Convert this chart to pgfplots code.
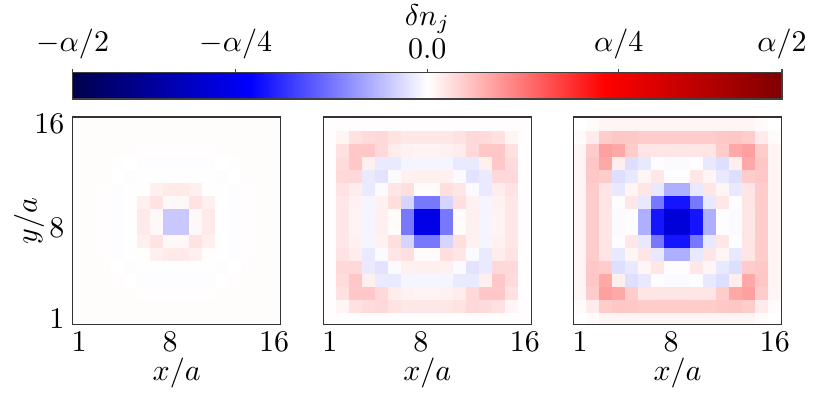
\documentclass[border=0pt]{standalone}
\usepackage{pgfplots}
\usepackage{pgfplotstable}
\pgfplotsset{compat=1.18}

% seismic colormap, values in units of alpha/2
\pgfplotsset{
  colormap={seismic}{rgb=(0,0,0.3) rgb=(0,0,1) rgb=(1,1,1) rgb=(1,0,0) rgb=(0.5,0,0)},
  hm/.style={
    scale only axis, width=69.33pt, height=69.33pt,
    xmin=0.5, xmax=16.5, ymin=0.5, ymax=16.5,
    xtick={1,8,16}, ytick={1,8,16},
    major tick length=0pt,
    axis on top, clip marker paths=true,
    point meta min=-1, point meta max=1,
    colormap name=seismic,
    xlabel={$x/a$},
    xlabel style={at={(axis description cs:0.5,-0.23)}, anchor=center},
    ylabel style={at={(axis description cs:-0.21,0.5)}, anchor=center},
    axis line style={black!80, line width=0.35pt},
    xticklabel style={yshift=1.3pt},
    yticklabel style={xshift=0.8pt},
    anchor=north west,
    y dir=normal,
  },
  % one square per lattice site, side = 1/16 of the axis
  cell/.style={scatter, only marks, mark=square*, mark size=2.1667pt,
    point meta=explicit,
    scatter/use mapped color={draw=mapped color, fill=mapped color},
    mark options={line width=0.2pt}},
}

% panel 1
\pgfplotstableread[row sep=\\]{
x y c\\
1 1 0.007\\ 2 1 0.007\\ 3 1 0.007\\ 4 1 0.007\\ 5 1 0.007\\ 6 1 0.007\\ 7 1 0.007\\ 8 1 0.007\\ 9 1 0.007\\ 10 1 0.007\\ 11 1 0.007\\ 12 1 0.007\\ 13 1 0.007\\ 14 1 0.007\\ 15 1 0.007\\ 16 1 0.007\\
1 2 0.007\\ 2 2 0.007\\ 3 2 0.007\\ 4 2 0.007\\ 5 2 0.007\\ 6 2 0.007\\ 7 2 0.007\\ 8 2 0.007\\ 9 2 0.007\\ 10 2 0.007\\ 11 2 0.007\\ 12 2 0.007\\ 13 2 0.007\\ 14 2 0.007\\ 15 2 0.007\\ 16 2 0.007\\
1 3 0.007\\ 2 3 0.007\\ 3 3 0.007\\ 4 3 0.007\\ 5 3 0.006\\ 6 3 0.004\\ 7 3 0.004\\ 8 3 0.004\\ 9 3 0.004\\ 10 3 0.004\\ 11 3 0.004\\ 12 3 0.006\\ 13 3 0.007\\ 14 3 0.007\\ 15 3 0.007\\ 16 3 0.007\\
1 4 0.007\\ 2 4 0.007\\ 3 4 0.007\\ 4 4 0.004\\ 5 4 0\\ 6 4 -0.003\\ 7 4 -0.003\\ 8 4 -0.003\\ 9 4 -0.003\\ 10 4 -0.003\\ 11 4 -0.003\\ 12 4 0\\ 13 4 0.004\\ 14 4 0.007\\ 15 4 0.007\\ 16 4 0.007\\
1 5 0.007\\ 2 5 0.007\\ 3 5 0.006\\ 4 5 0\\ 5 5 -0.003\\ 6 5 0.002\\ 7 5 0.003\\ 8 5 0.003\\ 9 5 0.003\\ 10 5 0.003\\ 11 5 0.002\\ 12 5 -0.003\\ 13 5 0\\ 14 5 0.006\\ 15 5 0.007\\ 16 5 0.007\\
1 6 0.007\\ 2 6 0.007\\ 3 6 0.004\\ 4 6 -0.003\\ 5 6 0.002\\ 6 6 0.005\\ 7 6 0.03\\ 8 6 0.043\\ 9 6 0.043\\ 10 6 0.03\\ 11 6 0.005\\ 12 6 0.002\\ 13 6 -0.003\\ 14 6 0.004\\ 15 6 0.007\\ 16 6 0.007\\
1 7 0.007\\ 2 7 0.007\\ 3 7 0.004\\ 4 7 -0.003\\ 5 7 0.003\\ 6 7 0.03\\ 7 7 0.055\\ 8 7 0.015\\ 9 7 0.015\\ 10 7 0.055\\ 11 7 0.03\\ 12 7 0.003\\ 13 7 -0.003\\ 14 7 0.004\\ 15 7 0.007\\ 16 7 0.007\\
1 8 0.007\\ 2 8 0.007\\ 3 8 0.004\\ 4 8 -0.003\\ 5 8 0.003\\ 6 8 0.043\\ 7 8 0.015\\ 8 8 -0.108\\ 9 8 -0.108\\ 10 8 0.015\\ 11 8 0.043\\ 12 8 0.003\\ 13 8 -0.003\\ 14 8 0.004\\ 15 8 0.007\\ 16 8 0.007\\
1 9 0.007\\ 2 9 0.007\\ 3 9 0.004\\ 4 9 -0.003\\ 5 9 0.003\\ 6 9 0.043\\ 7 9 0.015\\ 8 9 -0.108\\ 9 9 -0.108\\ 10 9 0.015\\ 11 9 0.043\\ 12 9 0.003\\ 13 9 -0.003\\ 14 9 0.004\\ 15 9 0.007\\ 16 9 0.007\\
1 10 0.007\\ 2 10 0.007\\ 3 10 0.004\\ 4 10 -0.003\\ 5 10 0.003\\ 6 10 0.03\\ 7 10 0.055\\ 8 10 0.015\\ 9 10 0.015\\ 10 10 0.055\\ 11 10 0.03\\ 12 10 0.003\\ 13 10 -0.003\\ 14 10 0.004\\ 15 10 0.007\\ 16 10 0.007\\
1 11 0.007\\ 2 11 0.007\\ 3 11 0.004\\ 4 11 -0.003\\ 5 11 0.002\\ 6 11 0.005\\ 7 11 0.03\\ 8 11 0.043\\ 9 11 0.043\\ 10 11 0.03\\ 11 11 0.005\\ 12 11 0.002\\ 13 11 -0.003\\ 14 11 0.004\\ 15 11 0.007\\ 16 11 0.007\\
1 12 0.007\\ 2 12 0.007\\ 3 12 0.006\\ 4 12 0\\ 5 12 -0.003\\ 6 12 0.002\\ 7 12 0.003\\ 8 12 0.003\\ 9 12 0.003\\ 10 12 0.003\\ 11 12 0.002\\ 12 12 -0.003\\ 13 12 0\\ 14 12 0.006\\ 15 12 0.007\\ 16 12 0.007\\
1 13 0.007\\ 2 13 0.007\\ 3 13 0.007\\ 4 13 0.004\\ 5 13 0\\ 6 13 -0.003\\ 7 13 -0.003\\ 8 13 -0.003\\ 9 13 -0.003\\ 10 13 -0.003\\ 11 13 -0.003\\ 12 13 0\\ 13 13 0.004\\ 14 13 0.007\\ 15 13 0.007\\ 16 13 0.007\\
1 14 0.007\\ 2 14 0.007\\ 3 14 0.007\\ 4 14 0.007\\ 5 14 0.006\\ 6 14 0.004\\ 7 14 0.004\\ 8 14 0.004\\ 9 14 0.004\\ 10 14 0.004\\ 11 14 0.004\\ 12 14 0.006\\ 13 14 0.007\\ 14 14 0.007\\ 15 14 0.007\\ 16 14 0.007\\
1 15 0.007\\ 2 15 0.007\\ 3 15 0.007\\ 4 15 0.007\\ 5 15 0.007\\ 6 15 0.007\\ 7 15 0.007\\ 8 15 0.007\\ 9 15 0.007\\ 10 15 0.007\\ 11 15 0.007\\ 12 15 0.007\\ 13 15 0.007\\ 14 15 0.007\\ 15 15 0.007\\ 16 15 0.007\\
1 16 0.007\\ 2 16 0.007\\ 3 16 0.007\\ 4 16 0.007\\ 5 16 0.007\\ 6 16 0.007\\ 7 16 0.007\\ 8 16 0.007\\ 9 16 0.007\\ 10 16 0.007\\ 11 16 0.007\\ 12 16 0.007\\ 13 16 0.007\\ 14 16 0.007\\ 15 16 0.007\\ 16 16 0.007\\
}\tabA

% panel 2
\pgfplotstableread[row sep=\\]{
x y c\\
1 1 0.005\\ 2 1 0.005\\ 3 1 0.005\\ 4 1 0.005\\ 5 1 0.005\\ 6 1 0.005\\ 7 1 0.005\\ 8 1 0.005\\ 9 1 0.005\\ 10 1 0.005\\ 11 1 0.005\\ 12 1 0.005\\ 13 1 0.005\\ 14 1 0.005\\ 15 1 0.005\\ 16 1 0.005\\
1 2 0.005\\ 2 2 0.02\\ 3 2 0.06\\ 4 2 0.072\\ 5 2 0.075\\ 6 2 0.058\\ 7 2 0.048\\ 8 2 0.048\\ 9 2 0.048\\ 10 2 0.048\\ 11 2 0.058\\ 12 2 0.075\\ 13 2 0.072\\ 14 2 0.06\\ 15 2 0.02\\ 16 2 0.005\\
1 3 0.005\\ 2 3 0.06\\ 3 3 0.11\\ 4 3 0.11\\ 5 3 0.075\\ 6 3 0.035\\ 7 3 0.028\\ 8 3 0.025\\ 9 3 0.025\\ 10 3 0.028\\ 11 3 0.035\\ 12 3 0.075\\ 13 3 0.11\\ 14 3 0.11\\ 15 3 0.06\\ 16 3 0.005\\
1 4 0.005\\ 2 4 0.072\\ 3 4 0.11\\ 4 4 0.03\\ 5 4 -0.04\\ 6 4 -0.04\\ 7 4 -0.02\\ 8 4 -0.02\\ 9 4 -0.02\\ 10 4 -0.02\\ 11 4 -0.04\\ 12 4 -0.04\\ 13 4 0.03\\ 14 4 0.11\\ 15 4 0.072\\ 16 4 0.005\\
1 5 0.005\\ 2 5 0.075\\ 3 5 0.075\\ 4 5 -0.04\\ 5 5 -0.055\\ 6 5 -0.008\\ 7 5 0.028\\ 8 5 0.03\\ 9 5 0.03\\ 10 5 0.028\\ 11 5 -0.008\\ 12 5 -0.055\\ 13 5 -0.04\\ 14 5 0.075\\ 15 5 0.075\\ 16 5 0.005\\
1 6 0.005\\ 2 6 0.058\\ 3 6 0.035\\ 4 6 -0.04\\ 5 6 -0.008\\ 6 6 0.05\\ 7 6 0.065\\ 8 6 0.008\\ 9 6 0.008\\ 10 6 0.065\\ 11 6 0.05\\ 12 6 -0.008\\ 13 6 -0.04\\ 14 6 0.035\\ 15 6 0.058\\ 16 6 0.005\\
1 7 0.005\\ 2 7 0.048\\ 3 7 0.028\\ 4 7 -0.02\\ 5 7 0.028\\ 6 7 0.065\\ 7 7 -0.082\\ 8 7 -0.265\\ 9 7 -0.265\\ 10 7 -0.082\\ 11 7 0.065\\ 12 7 0.028\\ 13 7 -0.02\\ 14 7 0.028\\ 15 7 0.048\\ 16 7 0.005\\
1 8 0.005\\ 2 8 0.048\\ 3 8 0.025\\ 4 8 -0.02\\ 5 8 0.03\\ 6 8 0.008\\ 7 8 -0.265\\ 8 8 -0.57\\ 9 8 -0.57\\ 10 8 -0.265\\ 11 8 0.008\\ 12 8 0.03\\ 13 8 -0.02\\ 14 8 0.025\\ 15 8 0.048\\ 16 8 0.005\\
1 9 0.005\\ 2 9 0.048\\ 3 9 0.025\\ 4 9 -0.02\\ 5 9 0.03\\ 6 9 0.008\\ 7 9 -0.265\\ 8 9 -0.57\\ 9 9 -0.57\\ 10 9 -0.265\\ 11 9 0.008\\ 12 9 0.03\\ 13 9 -0.02\\ 14 9 0.025\\ 15 9 0.048\\ 16 9 0.005\\
1 10 0.005\\ 2 10 0.048\\ 3 10 0.028\\ 4 10 -0.02\\ 5 10 0.028\\ 6 10 0.065\\ 7 10 -0.082\\ 8 10 -0.265\\ 9 10 -0.265\\ 10 10 -0.082\\ 11 10 0.065\\ 12 10 0.028\\ 13 10 -0.02\\ 14 10 0.028\\ 15 10 0.048\\ 16 10 0.005\\
1 11 0.005\\ 2 11 0.058\\ 3 11 0.035\\ 4 11 -0.04\\ 5 11 -0.008\\ 6 11 0.05\\ 7 11 0.065\\ 8 11 0.008\\ 9 11 0.008\\ 10 11 0.065\\ 11 11 0.05\\ 12 11 -0.008\\ 13 11 -0.04\\ 14 11 0.035\\ 15 11 0.058\\ 16 11 0.005\\
1 12 0.005\\ 2 12 0.075\\ 3 12 0.075\\ 4 12 -0.04\\ 5 12 -0.055\\ 6 12 -0.008\\ 7 12 0.028\\ 8 12 0.03\\ 9 12 0.03\\ 10 12 0.028\\ 11 12 -0.008\\ 12 12 -0.055\\ 13 12 -0.04\\ 14 12 0.075\\ 15 12 0.075\\ 16 12 0.005\\
1 13 0.005\\ 2 13 0.072\\ 3 13 0.11\\ 4 13 0.03\\ 5 13 -0.04\\ 6 13 -0.04\\ 7 13 -0.02\\ 8 13 -0.02\\ 9 13 -0.02\\ 10 13 -0.02\\ 11 13 -0.04\\ 12 13 -0.04\\ 13 13 0.03\\ 14 13 0.11\\ 15 13 0.072\\ 16 13 0.005\\
1 14 0.005\\ 2 14 0.06\\ 3 14 0.11\\ 4 14 0.11\\ 5 14 0.075\\ 6 14 0.035\\ 7 14 0.028\\ 8 14 0.025\\ 9 14 0.025\\ 10 14 0.028\\ 11 14 0.035\\ 12 14 0.075\\ 13 14 0.11\\ 14 14 0.11\\ 15 14 0.06\\ 16 14 0.005\\
1 15 0.005\\ 2 15 0.02\\ 3 15 0.06\\ 4 15 0.072\\ 5 15 0.075\\ 6 15 0.058\\ 7 15 0.048\\ 8 15 0.048\\ 9 15 0.048\\ 10 15 0.048\\ 11 15 0.058\\ 12 15 0.075\\ 13 15 0.072\\ 14 15 0.06\\ 15 15 0.02\\ 16 15 0.005\\
1 16 0.005\\ 2 16 0.005\\ 3 16 0.005\\ 4 16 0.005\\ 5 16 0.005\\ 6 16 0.005\\ 7 16 0.005\\ 8 16 0.005\\ 9 16 0.005\\ 10 16 0.005\\ 11 16 0.005\\ 12 16 0.005\\ 13 16 0.005\\ 14 16 0.005\\ 15 16 0.005\\ 16 16 0.005\\
}\tabB

% panel 3
\pgfplotstableread[row sep=\\]{
x y c\\
1 1 0\\ 2 1 0.008\\ 3 1 0.02\\ 4 1 0.02\\ 5 1 0.02\\ 6 1 0.02\\ 7 1 0.02\\ 8 1 0.02\\ 9 1 0.02\\ 10 1 0.02\\ 11 1 0.02\\ 12 1 0.02\\ 13 1 0.02\\ 14 1 0.02\\ 15 1 0.008\\ 16 1 0\\
1 2 0.008\\ 2 2 0.04\\ 3 2 0.1\\ 4 2 0.113\\ 5 2 0.108\\ 6 2 0.1\\ 7 2 0.1\\ 8 2 0.1\\ 9 2 0.1\\ 10 2 0.1\\ 11 2 0.1\\ 12 2 0.108\\ 13 2 0.113\\ 14 2 0.1\\ 15 2 0.04\\ 16 2 0.008\\
1 3 0.02\\ 2 3 0.1\\ 3 3 0.186\\ 4 3 0.172\\ 5 3 0.1\\ 6 3 0.052\\ 7 3 0.052\\ 8 3 0.049\\ 9 3 0.049\\ 10 3 0.052\\ 11 3 0.052\\ 12 3 0.1\\ 13 3 0.172\\ 14 3 0.186\\ 15 3 0.1\\ 16 3 0.02\\
1 4 0.02\\ 2 4 0.113\\ 3 4 0.172\\ 4 4 0.033\\ 5 4 -0.065\\ 6 4 -0.045\\ 7 4 -0.003\\ 8 4 -0.01\\ 9 4 -0.01\\ 10 4 -0.003\\ 11 4 -0.045\\ 12 4 -0.065\\ 13 4 0.033\\ 14 4 0.172\\ 15 4 0.113\\ 16 4 0.02\\
1 5 0.02\\ 2 5 0.108\\ 3 5 0.1\\ 4 5 -0.065\\ 5 5 -0.045\\ 6 5 0.02\\ 7 5 0.048\\ 8 5 -0.003\\ 9 5 -0.003\\ 10 5 0.048\\ 11 5 0.02\\ 12 5 -0.045\\ 13 5 -0.065\\ 14 5 0.1\\ 15 5 0.108\\ 16 5 0.02\\
1 6 0.02\\ 2 6 0.1\\ 3 6 0.052\\ 4 6 -0.045\\ 5 6 0.02\\ 6 6 0.05\\ 7 6 -0.045\\ 8 6 -0.157\\ 9 6 -0.157\\ 10 6 -0.045\\ 11 6 0.05\\ 12 6 0.02\\ 13 6 -0.045\\ 14 6 0.052\\ 15 6 0.1\\ 16 6 0.02\\
1 7 0.02\\ 2 7 0.1\\ 3 7 0.052\\ 4 7 -0.003\\ 5 7 0.048\\ 6 7 -0.045\\ 7 7 -0.265\\ 8 7 -0.46\\ 9 7 -0.46\\ 10 7 -0.265\\ 11 7 -0.045\\ 12 7 0.048\\ 13 7 -0.003\\ 14 7 0.052\\ 15 7 0.1\\ 16 7 0.02\\
1 8 0.02\\ 2 8 0.1\\ 3 8 0.049\\ 4 8 -0.01\\ 5 8 -0.003\\ 6 8 -0.157\\ 7 8 -0.46\\ 8 8 -0.61\\ 9 8 -0.61\\ 10 8 -0.46\\ 11 8 -0.157\\ 12 8 -0.003\\ 13 8 -0.01\\ 14 8 0.049\\ 15 8 0.1\\ 16 8 0.02\\
1 9 0.02\\ 2 9 0.1\\ 3 9 0.049\\ 4 9 -0.01\\ 5 9 -0.003\\ 6 9 -0.157\\ 7 9 -0.46\\ 8 9 -0.61\\ 9 9 -0.61\\ 10 9 -0.46\\ 11 9 -0.157\\ 12 9 -0.003\\ 13 9 -0.01\\ 14 9 0.049\\ 15 9 0.1\\ 16 9 0.02\\
1 10 0.02\\ 2 10 0.1\\ 3 10 0.052\\ 4 10 -0.003\\ 5 10 0.048\\ 6 10 -0.045\\ 7 10 -0.265\\ 8 10 -0.46\\ 9 10 -0.46\\ 10 10 -0.265\\ 11 10 -0.045\\ 12 10 0.048\\ 13 10 -0.003\\ 14 10 0.052\\ 15 10 0.1\\ 16 10 0.02\\
1 11 0.02\\ 2 11 0.1\\ 3 11 0.052\\ 4 11 -0.045\\ 5 11 0.02\\ 6 11 0.05\\ 7 11 -0.045\\ 8 11 -0.157\\ 9 11 -0.157\\ 10 11 -0.045\\ 11 11 0.05\\ 12 11 0.02\\ 13 11 -0.045\\ 14 11 0.052\\ 15 11 0.1\\ 16 11 0.02\\
1 12 0.02\\ 2 12 0.108\\ 3 12 0.1\\ 4 12 -0.065\\ 5 12 -0.045\\ 6 12 0.02\\ 7 12 0.048\\ 8 12 -0.003\\ 9 12 -0.003\\ 10 12 0.048\\ 11 12 0.02\\ 12 12 -0.045\\ 13 12 -0.065\\ 14 12 0.1\\ 15 12 0.108\\ 16 12 0.02\\
1 13 0.02\\ 2 13 0.113\\ 3 13 0.172\\ 4 13 0.033\\ 5 13 -0.065\\ 6 13 -0.045\\ 7 13 -0.003\\ 8 13 -0.01\\ 9 13 -0.01\\ 10 13 -0.003\\ 11 13 -0.045\\ 12 13 -0.065\\ 13 13 0.033\\ 14 13 0.172\\ 15 13 0.113\\ 16 13 0.02\\
1 14 0.02\\ 2 14 0.1\\ 3 14 0.186\\ 4 14 0.172\\ 5 14 0.1\\ 6 14 0.052\\ 7 14 0.052\\ 8 14 0.049\\ 9 14 0.049\\ 10 14 0.052\\ 11 14 0.052\\ 12 14 0.1\\ 13 14 0.172\\ 14 14 0.186\\ 15 14 0.1\\ 16 14 0.02\\
1 15 0.008\\ 2 15 0.04\\ 3 15 0.1\\ 4 15 0.113\\ 5 15 0.108\\ 6 15 0.1\\ 7 15 0.1\\ 8 15 0.1\\ 9 15 0.1\\ 10 15 0.1\\ 11 15 0.1\\ 12 15 0.108\\ 13 15 0.113\\ 14 15 0.1\\ 15 15 0.04\\ 16 15 0.008\\
1 16 0\\ 2 16 0.008\\ 3 16 0.02\\ 4 16 0.02\\ 5 16 0.02\\ 6 16 0.02\\ 7 16 0.02\\ 8 16 0.02\\ 9 16 0.02\\ 10 16 0.02\\ 11 16 0.02\\ 12 16 0.02\\ 13 16 0.02\\ 14 16 0.02\\ 15 16 0.008\\ 16 16 0\\
}\tabC

\begin{document}
\begin{tikzpicture}
\useasboundingbox (0,0) rectangle (271pt,-132.67pt);

\begin{axis}[hm, at={(24.23pt,-39pt)},
  ylabel={$y/a$},
  colorbar horizontal,
  colorbar style={
    at={(0,1.0865)}, anchor=south west,
    width=236.43pt, height=8.9pt,
    xtick={-1,-0.54,0,0.54,1},
    xticklabels={$-\alpha/2$,$-\alpha/4$,$0.0$,$\alpha/4$,$\alpha/2$},
    xticklabel pos=upper, xtick pos=upper,
    xtick align=outside, major tick length=1pt,
    xlabel={$\delta n_j$},
    xlabel style={at={(axis description cs:0.5,3.0)}, anchor=center},
    axis line style={black!75, line width=0.35pt},
    xtick style={black!75, line width=0.35pt},
  },
]
\addplot[cell] table[x=x, y=y, meta=c] {\tabA};
\end{axis}

\begin{axis}[hm, at={(107.77pt,-39pt)}, ytick=\empty]
\addplot[cell] table[x=x, y=y, meta=c] {\tabB};
\end{axis}

\begin{axis}[hm, at={(191.17pt,-39pt)}, ytick=\empty]
\addplot[cell] table[x=x, y=y, meta=c] {\tabC};
\end{axis}
\end{tikzpicture}
\end{document}
